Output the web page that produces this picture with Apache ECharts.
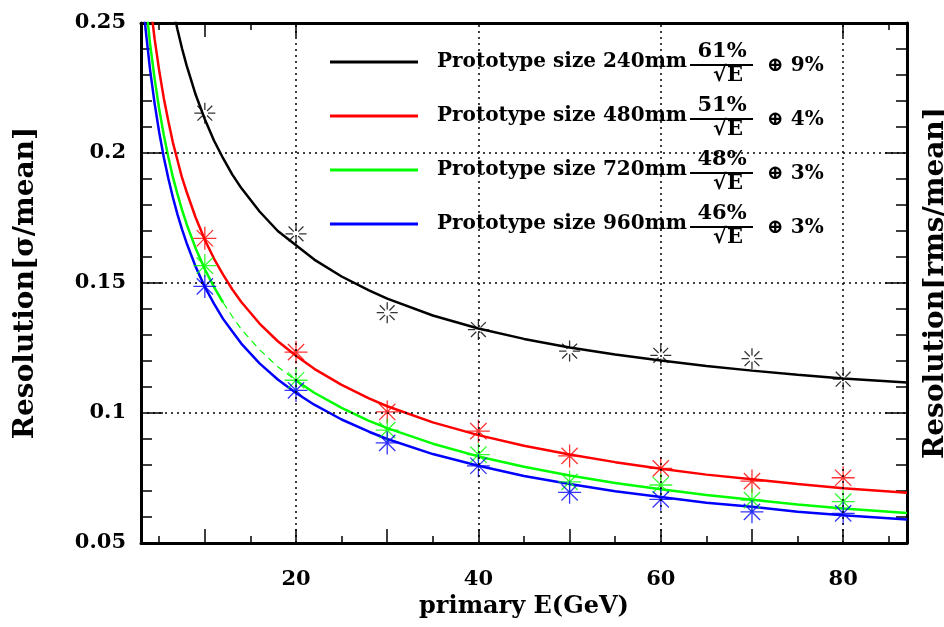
<!DOCTYPE html>
<html>
<head>
<meta charset="utf-8">
<script src="https://cdn.jsdelivr.net/npm/echarts@6/dist/echarts.min.js"></script>
<style>
html,body{margin:0;padding:0;background:#fff;}
#main{width:944px;height:627px;}
</style>
</head>
<body>
<div id="main"></div>
<script>
// energies (GeV) of the measured points
var pointE = [10, 20, 30, 40, 50, 60, 70, 80];
var point240 = [0.2153, 0.1689, 0.1386, 0.1321, 0.1238, 0.1222, 0.1209, 0.1130];
var point480 = [0.1672, 0.1234, 0.1004, 0.0930, 0.0835, 0.0787, 0.0738, 0.0751];
var point720 = [0.1567, 0.1126, 0.0934, 0.0840, 0.0735, 0.0723, 0.0665, 0.0659];
var point960 = [0.1487, 0.1087, 0.0885, 0.0797, 0.0695, 0.0668, 0.0620, 0.0614];

// fit curves
var fitE   = [3, 3.5, 4, 4.5, 5, 5.5, 6, 6.5, 7, 7.5, 8, 9, 10, 11, 12, 13, 14, 16, 18, 20, 22, 25, 28, 30, 35, 40, 45, 50, 55, 60, 65, 70, 75, 80, 87];
var fit240 = [0.3635, 0.3383, 0.318, 0.3013, 0.2873, 0.2752, 0.2648, 0.2556, 0.2475, 0.2402, 0.2337, 0.2224, 0.213, 0.2048, 0.198, 0.1918, 0.1865, 0.1775, 0.170, 0.1645, 0.159, 0.1525, 0.1472, 0.144, 0.1375, 0.1325, 0.1285, 0.1252, 0.1225, 0.1202, 0.1181, 0.1163, 0.1147, 0.1133, 0.1117];
var fit480 = [0.2971, 0.2755, 0.2581, 0.2437, 0.2316, 0.2211, 0.2122, 0.2040, 0.1972, 0.1905, 0.1851, 0.1751, 0.1666, 0.1594, 0.1532, 0.1476, 0.1427, 0.1344, 0.1276, 0.1220, 0.1170, 0.1108, 0.1056, 0.1026, 0.0964, 0.0915, 0.0874, 0.0840, 0.0811, 0.0786, 0.0763, 0.0745, 0.0727, 0.0711, 0.0693];
var fit720 = [0.2788, 0.2583, 0.2419, 0.2284, 0.2168, 0.2069, 0.1984, 0.1907, 0.1842, 0.1781, 0.1727, 0.1633, 0.1553, 0.1485, 0.1425, 0.1372, 0.1322, 0.1243, 0.1178, 0.1125, 0.1078, 0.1020, 0.0970, 0.0942, 0.0882, 0.0833, 0.0793, 0.0760, 0.0731, 0.0707, 0.0685, 0.0666, 0.0648, 0.0633, 0.0615];
var fit960 = [0.2673, 0.2477, 0.2319, 0.2189, 0.2079, 0.1984, 0.1902, 0.1829, 0.1764, 0.1706, 0.1654, 0.1562, 0.1485, 0.1421, 0.1362, 0.1314, 0.1267, 0.1191, 0.1129, 0.1077, 0.1032, 0.0975, 0.0928, 0.0900, 0.0842, 0.0797, 0.0758, 0.0727, 0.0699, 0.0677, 0.0655, 0.0639, 0.0620, 0.0607, 0.0590];
// part of the 720mm curve that is drawn thin and dashed
var dash720From = 12, dash720To = 20;

var seriesNames = ['Prototype size 240mm', 'Prototype size 480mm', 'Prototype size 720mm', 'Prototype size 960mm'];
var seriesColors = ['#000000', '#ff0000', '#00ff00', '#0000ff'];
var fitStoch = ['61%', '51%', '48%', '46%'];
var fitConst = ['9%', '4%', '3%', '3%'];

var xLabels = [20, 40, 60, 80];
var xMajor = [10, 20, 30, 40, 50, 60, 70, 80];
var xMinor = [5, 15, 25, 35, 45, 55, 65, 75, 85];
var xGrid = [20, 40, 60, 80];
var yGrid = [0.1, 0.15, 0.2];

var FONT = 'DejaVu Serif';

function pairs(xs, ys) {
	var out = [];
	for (var i = 0; i < xs.length; i++) out.push([xs[i], ys[i]]);
	return out;
}

// asterisk markers
var starOpen = 'path://M0,-10L0,-3M0,3L0,10M-10,0L-3,0M3,0L10,0M-7.07,-7.07L-2.1,-2.1M2.1,2.1L7.07,7.07M-7.07,7.07L-2.1,2.1M2.1,-2.1L7.07,-7.07';
var starFull = 'path://M0,-10L0,10M-10,0L10,0M-7.07,-7.07L7.07,7.07M-7.07,7.07L7.07,-7.07';

var myChart = echarts.init(document.getElementById('main'));

var series = [];
var fits = [fit240, fit480, fit720, fit960];
var points = [point240, point480, point720, point960];

for (var k = 0; k < 4; k++) {
	var data = pairs(fitE, fits[k]);
	if (k == 2) {
		data = data.map(function(p) {
			return (p[0] > dash720From && p[0] < dash720To) ? [p[0], '-'] : p;
		});
	}
	var s = {
		name: seriesNames[k],
		type: 'line',
		data: data,
		smooth: false,
		showSymbol: false,
		connectNulls: false,
		clip: true,
		lineStyle: {color: seriesColors[k], width: 2.5},
		itemStyle: {color: seriesColors[k]},
		z: 2
	};
	if (k == 0) {
		s.markLine = {
			silent: true,
			symbol: ['none', 'none'],
			label: {show: false},
			lineStyle: {color: '#000', type: [2, 4], width: 1.5},
			data: xGrid.map(function(v) { return {xAxis: v}; }).concat(yGrid.map(function(v) { return {yAxis: v}; }))
		};
	}
	series.push(s);
}

series.push({
	name: 'dash720',
	type: 'line',
	data: pairs(fitE, fit720).filter(function(p) { return p[0] >= dash720From && p[0] <= dash720To; }),
	showSymbol: false,
	lineStyle: {color: '#00ff00', width: 1.2, type: [7, 5]},
	z: 2
});

for (var k = 0; k < 4; k++) {
	series.push({
		name: seriesNames[k] + ' points',
		type: 'scatter',
		data: pairs(pointE, points[k]),
		symbol: k == 0 ? starOpen : starFull,
		symbolSize: k == 0 ? 21 : 23,
		itemStyle: {color: 'transparent', borderColor: seriesColors[k], borderWidth: 1.3},
		z: 3
	});
}

// formula next to each legend row
var rowY = [60, 114, 168, 222];
var graphic = [];
for (var r = 0; r < 4; r++) {
	var y = rowY[r];
	graphic.push({type: 'text', x: 722, y: y + 2, z: 100,
		style: {text: fitStoch[r], align: 'center', verticalAlign: 'bottom', fill: '#000', font: 'bold 21px "' + FONT + '"'}});
	graphic.push({type: 'rect', z: 100, shape: {x: 690, y: y + 4, width: 63, height: 2}, style: {fill: '#000'}});
	graphic.push({type: 'text', x: 728, y: y + 5, z: 100,
		style: {text: '\u221AE', align: 'center', verticalAlign: 'top', fill: '#000', font: 'bold 21px "' + FONT + '"'}});
	graphic.push({type: 'text', x: 767, y: y + 6, z: 100,
		style: {text: '\u2295 ' + fitConst[r], align: 'left', verticalAlign: 'middle', fill: '#000', font: 'bold 20px "' + FONT + '"'}});
}

var labelStyle = {color: '#000', fontFamily: FONT, fontWeight: 'bold', fontSize: 21};
var xNameStyle = {color: '#000', fontFamily: FONT, fontWeight: 'bold', fontSize: 24};
var yNameStyle = {color: '#000', fontFamily: FONT, fontWeight: 'bold', fontSize: 28};

var option = {
	animation: false,
	backgroundColor: '#fff',
	grid: [
		{left: 141, right: 37, top: 23, bottom: 84, outerBoundsMode: 'none'},
		{left: 141, right: 37, top: 23, bottom: 84, outerBoundsMode: 'none'}
	],
	legend: {
		data: seriesNames,
		orient: 'vertical',
		left: 310,
		top: 25,
		padding: [27, 129, 16, 20],
		backgroundColor: '#fff',
		itemWidth: 88,
		itemHeight: 3,
		itemGap: 34,
		icon: 'rect',
		selectedMode: false,
		textStyle: {color: '#000', fontFamily: FONT, fontWeight: 'bold', fontSize: 20, padding: [0, 0, 0, 14]}
	},
	xAxis: [
		{
			gridIndex: 0, type: 'value', position: 'bottom', min: 3, max: 87,
			axisLine: {lineStyle: {color: '#000', width: 3}},
			axisTick: {inside: true, length: 14, customValues: xMajor, lineStyle: {color: '#000', width: 1.5}},
			axisLabel: Object.assign({customValues: xLabels, margin: 26}, labelStyle),
			splitLine: {show: false},
			name: 'primary E(GeV)', nameLocation: 'middle', nameGap: 50, nameTextStyle: xNameStyle
		},
		{
			gridIndex: 0, type: 'value', position: 'top', min: 3, max: 87,
			axisLine: {lineStyle: {color: '#000', width: 3}},
			axisTick: {inside: true, length: 14, customValues: xMajor, lineStyle: {color: '#000', width: 1.5}},
			axisLabel: {show: false},
			splitLine: {show: false}
		},
		{
			gridIndex: 1, type: 'value', position: 'bottom', min: 3, max: 87,
			axisLine: {show: false},
			axisTick: {inside: true, length: 7, customValues: xMinor, lineStyle: {color: '#000', width: 1.5}},
			axisLabel: {show: false},
			splitLine: {show: false}
		},
		{
			gridIndex: 1, type: 'value', position: 'top', min: 3, max: 87,
			axisLine: {show: false},
			axisTick: {inside: true, length: 7, customValues: xMinor, lineStyle: {color: '#000', width: 1.5}},
			axisLabel: {show: false},
			splitLine: {show: false}
		}
	],
	yAxis: [
		{
			gridIndex: 0, type: 'value', position: 'left', min: 0.05, max: 0.25, interval: 0.05,
			axisLine: {lineStyle: {color: '#000', width: 3}},
			axisTick: {inside: true, length: 22, lineStyle: {color: '#000', width: 1.5}},
			minorTick: {show: true, splitNumber: 5, length: 11, lineStyle: {color: '#000', width: 1.5}},
			axisLabel: Object.assign({margin: 15}, labelStyle),
			splitLine: {show: false},
			name: 'Resolution[\u03C3/mean]', nameLocation: 'middle', nameRotate: 90, nameGap: 101, nameTextStyle: yNameStyle
		},
		{
			gridIndex: 0, type: 'value', position: 'right', min: 0.05, max: 0.25, interval: 0.05,
			axisLine: {lineStyle: {color: '#000', width: 3}},
			axisTick: {inside: true, length: 22, lineStyle: {color: '#000', width: 1.5}},
			minorTick: {show: true, splitNumber: 5, length: 11, lineStyle: {color: '#000', width: 1.5}},
			axisLabel: {show: false},
			splitLine: {show: false},
			name: 'Resolution[rms/mean]', nameLocation: 'middle', nameRotate: 90, nameGap: 15, nameTextStyle: yNameStyle
		},
		{gridIndex: 1, type: 'value', min: 0.05, max: 0.25, show: false}
	],
	graphic: graphic,
	series: series
};

myChart.setOption(option);
</script>
</body>
</html>
